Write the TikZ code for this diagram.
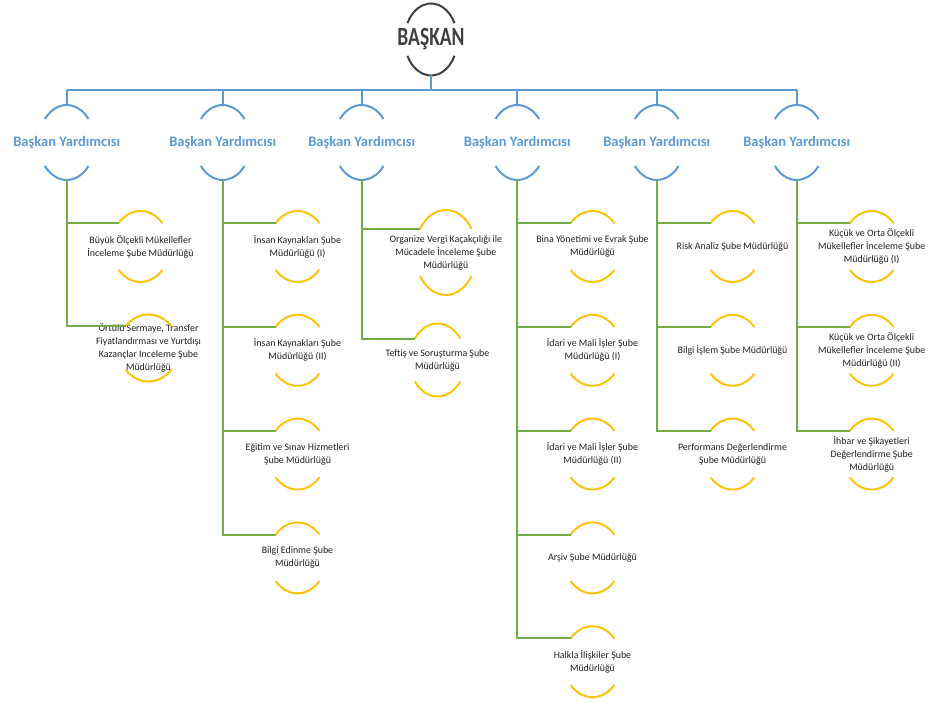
\documentclass[tikz,border=0pt]{standalone}
\usepackage{graphicx}
\usepackage{fontspec}
\setmainfont{Carlito}
\usetikzlibrary{calc}
\definecolor{accblue}{HTML}{5B9BD5}
\definecolor{accgreen}{HTML}{70AD47}
\definecolor{accgold}{HTML}{FFC000}
\definecolor{headgray}{HTML}{404040}
\definecolor{leafink}{HTML}{202020}
\tikzset{
  head/.style={font=\bfseries\fontsize{19.5}{22}\selectfont, text=headgray, inner sep=0pt},
  head arc/.style={draw=headgray, line width=2pt},
  vp/.style={font=\bfseries\fontsize{14.5}{16}\selectfont, text=accblue, inner sep=0pt},
  vp arc/.style={draw=accblue, line width=2pt},
  leaf/.style={font=\fontsize{9.9}{13}\selectfont, text=leafink, align=center, inner sep=0pt},
  leaf arc/.style={draw=accgold, line width=1.9pt},
  bus/.style={draw=accblue, line width=2pt},
  branch/.style={draw=accgreen, line width=2pt},
}
% #1 name, #2 x, #3 y (downwards), #4 rx, #5 ry, #6 angle, #7 style, #8 text
\newcommand\orgunit[8]{%
  \node[#7] (#1) at (#2,-#3) {#8};
  \coordinate (#1-tl) at ($(#2,-#3)+({-#4*cos(#6)},{#5*sin(#6)})$);
  \coordinate (#1-bl) at ($(#2,-#3)+({-#4*cos(#6)},{-#5*sin(#6)})$);
  \coordinate (#1-top) at (#2,{-#3+#5});
  \coordinate (#1-bot) at (#2,{-#3-#5});
  \draw[#7 arc] (#1-tl) arc[start angle={180-#6}, end angle=#6, x radius=#4, y radius=#5];
  \draw[#7 arc] (#1-bl) arc[start angle={180+#6}, end angle={360-#6}, x radius=#4, y radius=#5];
}
\begin{document}
\begin{tikzpicture}[x=1pt,y=1pt]
\fill[white] (0,0) rectangle (927,-703);
\useasboundingbox (0,0) rectangle (927,-703);

% head
\orgunit{baskan}{431}{39.5}{26.4}{36}{27}{head}{\scalebox{1}[1.35]{BAŞKAN}}

% vice presidents
\orgunit{vpa}{66.7}{142.5}{28}{37.5}{38.8}{vp}{Başkan Yardımcısı}
\orgunit{vpb}{222.7}{142.5}{28}{37.5}{38.8}{vp}{Başkan Yardımcısı}
\orgunit{vpc}{361.7}{142.5}{28}{37.5}{38.8}{vp}{Başkan Yardımcısı}
\orgunit{vpd}{517.3}{142.5}{28}{37.5}{38.8}{vp}{Başkan Yardımcısı}
\orgunit{vpe}{656.7}{142.5}{28}{37.5}{38.8}{vp}{Başkan Yardımcısı}
\orgunit{vpf}{796.7}{142.5}{28}{37.5}{38.8}{vp}{Başkan Yardımcısı}

% column 1
\orgunit{aa}{140.5}{246.5}{29}{35.5}{41}{leaf}{Büyük Ölçekli Mükellefler\\İnceleme Şube Müdürlüğü}
\orgunit{ab}{148.5}{348}{30}{33.5}{40}{leaf}{Örtülü Sermaye, Transfer\\Fiyatlandırması ve Yurtdışı\\Kazançlar Inceleme Şube\\Müdürlüğü}

% column 2
\orgunit{ba}{297.5}{246.5}{29}{35.5}{41}{leaf}{İnsan Kaynakları Şube\\Müdürlüğü (I)}
\orgunit{bb}{297.5}{350.3}{29}{35.5}{41}{leaf}{İnsan Kaynakları Şube\\Müdürlüğü (II)}
\orgunit{bc}{297.5}{454.1}{29}{35.5}{41}{leaf}{Eğitim ve Sınav Hizmetleri\\Şube Müdürlüğü}
\orgunit{bd}{297.5}{557.9}{29}{35.5}{41}{leaf}{Bilgi Edinme Şube\\Müdürlüğü}

% column 3
\orgunit{ca}{445.8}{252.5}{31}{42.5}{34}{leaf}{Organize Vergi Kaçakçılığı ile\\Mücadele İnceleme Şube\\Müdürlüğü}
\orgunit{cb}{437.5}{360}{28}{36.5}{36}{leaf}{Teftiş ve Soruşturma Şube\\Müdürlüğü}

% column 4
\orgunit{da}{592.5}{246.5}{29}{35.5}{41}{leaf}{Bina Yönetimi ve Evrak Şube\\Müdürlüğü}
\orgunit{db}{592.5}{350.3}{29}{35.5}{41}{leaf}{İdari ve Mali İşler Şube\\Müdürlüğü (I)}
\orgunit{dc}{592.5}{454.1}{29}{35.5}{41}{leaf}{İdari ve Mali İşler Şube\\Müdürlüğü (II)}
\orgunit{dd}{592.5}{557.9}{29}{35.5}{41}{leaf}{Arşiv Şube Müdürlüğü}
\orgunit{de}{592.5}{661.7}{29}{35.5}{41}{leaf}{Halkla İlişkiler Şube\\Müdürlüğü}

% column 5
\orgunit{ea}{732.5}{246.5}{29}{35.5}{41}{leaf}{Risk Analiz Şube Müdürlüğü}
\orgunit{eb}{732.5}{350.3}{29}{35.5}{41}{leaf}{Bilgi İşlem Şube Müdürlüğü}
\orgunit{ec}{732.5}{454.1}{29}{35.5}{41}{leaf}{Performans Değerlendirme\\Şube Müdürlüğü}

% column 6
\orgunit{fa}{871.7}{246.5}{29}{35.5}{41}{leaf}{Küçük ve Orta Ölçekli\\Mükellefler İnceleme Şube\\Müdürlüğü (I)}
\orgunit{fb}{871.7}{350.3}{29}{35.5}{41}{leaf}{Küçük ve Orta Ölçekli\\Mükellefler İnceleme Şube\\Müdürlüğü (II)}
\orgunit{fc}{871.7}{454.1}{29}{35.5}{41}{leaf}{İhbar ve Şikayetleri\\Değerlendirme Şube\\Müdürlüğü}

% blue bus
\coordinate (busL) at (66.7,-90);
\coordinate (busR) at (796.7,-90);
\draw[bus] (busL) -- (busR);
\draw[bus] (baskan-bot) -- (baskan-bot |- busL);
\foreach \v in {vpa,vpb,vpc,vpd,vpe,vpf}
  \draw[bus] (\v-top) -- (\v-top |- busL);

% green branches
\foreach \l in {aa,ab} \draw[branch] (vpa-bot) |- (\l-tl);
\foreach \l in {ba,bb,bc,bd} \draw[branch] (vpb-bot) |- (\l-tl);
\foreach \l in {ca,cb} \draw[branch] (vpc-bot) |- (\l-tl);
\foreach \l in {da,db,dc,dd,de} \draw[branch] (vpd-bot) |- (\l-tl);
\foreach \l in {ea,eb,ec} \draw[branch] (vpe-bot) |- (\l-tl);
\foreach \l in {fa,fb,fc} \draw[branch] (vpf-bot) |- (\l-tl);
\end{tikzpicture}
\end{document}
